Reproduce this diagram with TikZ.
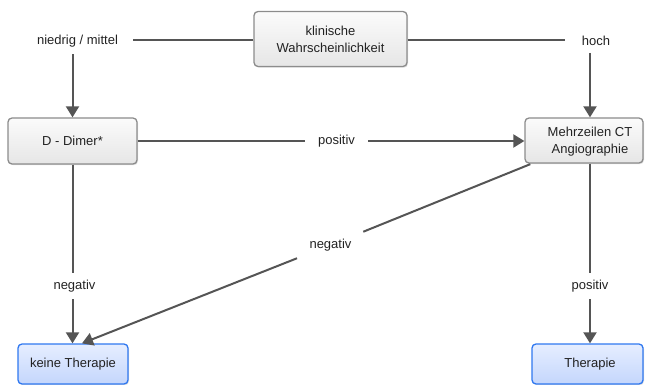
\documentclass[tikz,border=0pt]{standalone}
\usepackage{fontspec}
\setmainfont{Liberation Sans}
\usetikzlibrary{arrows.meta,shadows,calc}
\definecolor{linecol}{HTML}{555555}
\definecolor{txtcol}{HTML}{222222}
\definecolor{grayborder}{HTML}{8C8C8C}
\definecolor{graytop}{HTML}{FBFBFB}
\definecolor{graybot}{HTML}{E6E6E6}
\definecolor{blueborder}{HTML}{2F78F0}
\definecolor{bluetop}{HTML}{E6EEFF}
\definecolor{bluebot}{HTML}{C4D6FC}
\begin{document}
\begin{tikzpicture}[x=1pt,y=-1pt,
  every node/.style={font=\fontsize{13pt}{17pt}\selectfont, text=txtcol},
  graybox/.style={draw=grayborder, line width=1.3pt, rounded corners=4pt,
    top color=graytop, bottom color=graybot, align=center, inner sep=0pt,
    drop shadow={shadow xshift=1pt, shadow yshift=-1.2pt, opacity=0.25}},
  bluebox/.style={draw=blueborder, line width=1.3pt, rounded corners=4pt,
    top color=bluetop, bottom color=bluebot, align=center, inner sep=0pt,
    drop shadow={shadow xshift=1pt, shadow yshift=-1.2pt, opacity=0.25}},
  lbl/.style={inner xsep=13pt, inner ysep=7pt},
  conn/.style={draw=linecol, line width=2pt},
  arr/.style={conn, -{Triangle[width=13pt,length=11pt]}}
]
\useasboundingbox (0,0) rectangle (646,385);

% boxes
\node[graybox, minimum width=153pt, minimum height=55pt] (kw) at (330.5,39) {klinische\\Wahrscheinlichkeit};
\node[graybox, minimum width=129pt, minimum height=46pt] (dd) at (72.5,141) {D - Dimer*};
\node[graybox, minimum width=118pt, minimum height=45pt] (ctbox) at (584,140.5) {};
\node[align=center, inner sep=0pt] (ct) at (590,141.5) {Mehrzeilen CT\\Angiographie};
\node[bluebox, minimum width=110pt, minimum height=40pt] (kt) at (73,364) {keine Therapie};
\node[bluebox, minimum width=111pt, minimum height=40pt] (thbox) at (587.5,364) {};
\node[inner sep=0pt] (th) at (590,364) {Therapie};

% labels
\node[lbl, inner xsep=15pt] (nm) at (77.5,41) {niedrig / mittel};
\node[lbl, inner xsep=17pt] (hoch) at (596,41) {hoch};
\node[lbl] (pos1) at (336.5,141) {positiv};
\node[lbl] (neg1) at (74.5,286) {negativ};
\node[lbl] (neg2) at (330.5,245) {negativ};
\node[lbl] (pos2) at (590,286) {positiv};

% connectors
\coordinate (toprow) at (0,40);
\coordinate (midrow) at (0,141);
\draw[conn] (kw.west |- toprow) -- (nm.east |- toprow);
\draw[conn] (kw.east |- toprow) -- (hoch.west |- toprow);
\draw[arr] (nm.south -| dd.north) -- (dd.north);
\draw[arr] (hoch.south -| ct.center) -- (ct.center |- ctbox.north);
\draw[conn] (dd.east |- midrow) -- (pos1.west |- midrow);
\draw[arr] (pos1.east |- midrow) -- (ctbox.west |- midrow);
\draw[conn] (dd.south) -- (neg1.north -| dd.south);
\draw[arr] (neg1.south -| dd.south) -- (kt.north -| dd.south);
\draw[conn] ($(ctbox.south west)+(6,0.5)$) -- (neg2);
\draw[arr] (neg2) -- ($(kt.north)+(9,0)$);
\draw[conn] (ct.center |- ctbox.south) -- (pos2.north);
\draw[arr] (pos2.south) -- (pos2.south |- thbox.north);
\end{tikzpicture}
\end{document}
